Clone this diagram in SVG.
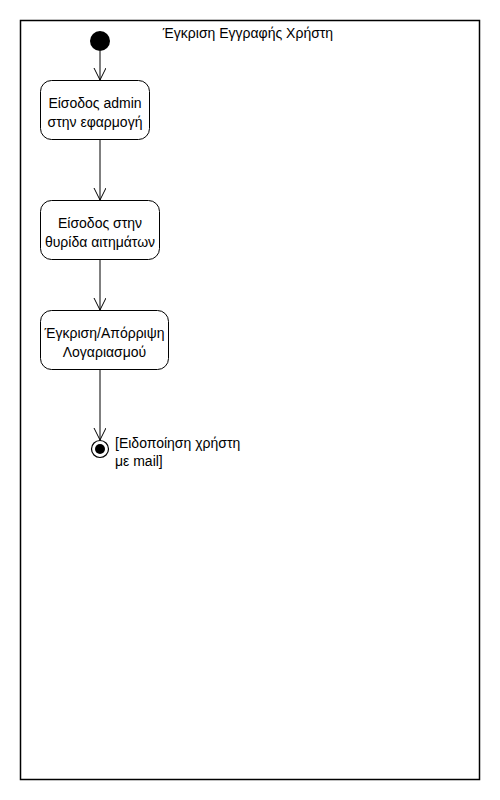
<svg xmlns="http://www.w3.org/2000/svg" width="500" height="800" viewBox="0 0 500 800">
<style>
text{font-family:"Liberation Sans",Arial,sans-serif;font-size:14px;fill:#000}
.node{fill:#fff;stroke:#000;stroke-width:1}
.c{stroke:#000;stroke-width:1;fill:none}
</style>
<defs>
<marker id="open" markerWidth="14" markerHeight="14" refX="12" refY="6" orient="auto" markerUnits="userSpaceOnUse" viewBox="0 0 14 14">
<path d="M0,0 L12,6 L0,12" fill="none" stroke="#000" stroke-width="1"/>
</marker>
</defs>
<rect id="frame" x="20.5" y="20.5" width="459" height="759" fill="#fff" stroke="#000" stroke-width="1.5"/>
<text x="248" y="38" text-anchor="middle">Έγκριση Εγγραφής Χρήστη</text>
<g id="connectors">
<line class="c" x1="100" y1="51" x2="100" y2="80" marker-end="url(#open)"/>
<line class="c" x1="100" y1="139" x2="100" y2="200" marker-end="url(#open)"/>
<line class="c" x1="100" y1="259" x2="100" y2="310" marker-end="url(#open)"/>
<line class="c" x1="100" y1="369" x2="100" y2="440" marker-end="url(#open)"/>
</g>
<g id="start"><circle cx="100" cy="41" r="10" fill="#000"/></g>
<g id="n1"><rect class="node" x="40.5" y="80.5" width="109" height="59" rx="11"/>
<text x="95" y="108" text-anchor="middle">Είσοδος admin</text>
<text x="95" y="127" text-anchor="middle">στην εφαρμογή</text></g>
<g id="n2"><rect class="node" x="40.5" y="200.5" width="119" height="59" rx="11"/>
<text x="100" y="228" text-anchor="middle">Είσοδος στην</text>
<text x="100" y="247" text-anchor="middle">θυρίδα αιτημάτων</text></g>
<g id="n3"><rect class="node" x="40.5" y="310.5" width="128" height="59" rx="11"/>
<text x="104.5" y="338" text-anchor="middle">Έγκριση/Απόρριψη</text>
<text x="104.5" y="357" text-anchor="middle">Λογαριασμού</text></g>
<g id="end"><circle cx="100" cy="449" r="8.5" fill="#fff" stroke="#000" stroke-width="1.2"/>
<circle cx="100" cy="449" r="5" fill="#000"/>
<text x="115" y="448">[Ειδοποίηση χρήστη</text>
<text x="115" y="466">με mail]</text></g>
</svg>
